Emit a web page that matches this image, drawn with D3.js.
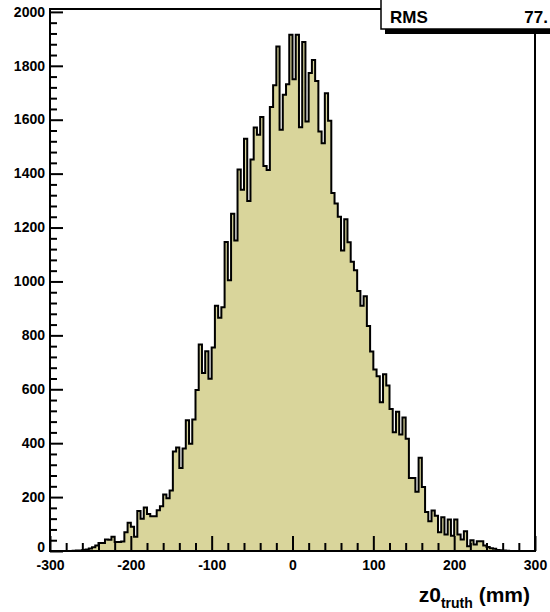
<!DOCTYPE html>
<html><head><meta charset="utf-8">
<script src="https://cdn.jsdelivr.net/npm/d3@7"></script>
<style>body{margin:0;background:#fff} svg{display:block}</style>
</head><body><svg id="c" width="550" height="612"></svg>
<script>
// ---- data ----
const binLow = -300;
const binHigh = 300;
const counts = [
  0,0,0,0,0,0,0,1,2,2,
  4,6,9,14,20,30,30,43,42,53,
  33,33,35,70,105,90,53,148,120,161,
  137,129,129,151,166,210,196,224,369,384,
  308,380,485,398,488,597,766,660,741,639,
  755,910,865,904,1146,1004,1251,1152,1415,1340,
  1529,1298,1452,1571,1544,1610,1428,1413,1647,1728,
  1872,1563,1693,1732,1915,1750,1915,1572,1888,1593,
  1773,1822,1744,1556,1513,1698,1596,1328,1289,1240,
  1115,1231,1145,1073,1042,965,910,945,835,740,
  673,648,552,656,614,527,441,517,432,495,
  416,271,271,220,346,237,145,110,150,131,
  70,125,61,117,57,117,61,43,73,18,
  40,24,36,36,20,15,10,8,4,3,
  2,1,0,0,0,0,0,0,0,0
];
const yTickValues = [0,200,400,600,800,1000,1200,1400,1600,1800,2000];
const yMinorStep = 40;
const xTickValues = [-300,-200,-100,0,100,200,300];
const xTickLabels = ["-300","-200","-100","0","100","200","300"];
const xMinorStep = 20;
const statsLabel = "RMS";
const statsValue = "77.";
const titleMain = "z0";
const titleSub = "truth";
const titleUnit = " (mm)";

// ---- layout ----
const FONT = "'Liberation Sans', Arial, Helvetica, sans-serif";
const svg = d3.select("#c");
const fr = {l:50, r:535, t:9, b:551};
const x = d3.scaleLinear().domain([binLow, binHigh]).range([fr.l, fr.r]);
const yMax = d3.max(counts) * 1.05;
const y = d3.scaleLinear().domain([0, yMax]).range([fr.b, fr.t]);
const binW = (binHigh - binLow) / counts.length;
const pts = counts.map((v,i) => ({e: binLow + i*binW, v}));
pts.push({e: binHigh, v: counts[counts.length-1]});

const area = d3.area().x(d => x(d.e)).y0(y(0)).y1(d => y(d.v)).curve(d3.curveStepAfter);
const line = d3.line().x(d => x(d.e)).y(d => y(d.v)).curve(d3.curveStepAfter);

svg.append("path").attr("d", area(pts)).attr("fill", "#d9d59b");
svg.append("path").attr("d", line(pts)).attr("fill", "none")
   .attr("stroke", "#000").attr("stroke-width", 2).attr("stroke-linejoin", "miter");

// ---- axes ----
function styleAxis(g, size){
  g.select(".domain").remove();
  g.attr("font-family", FONT).attr("font-size", size).attr("font-weight", "bold");
  g.selectAll("line").attr("stroke", "#000").attr("stroke-width", 2);
  g.selectAll("text").attr("fill", "#000");
}
const yMinor = d3.range(0, yMax, yMinorStep).filter(v => !yTickValues.includes(v));
const gyMinor = svg.append("g").attr("transform", `translate(${fr.l},0)`)
  .call(d3.axisLeft(y).tickValues(yMinor).tickSize(-7).tickFormat(""));
styleAxis(gyMinor, 14);
const gy = svg.append("g").attr("transform", `translate(${fr.l},0)`)
  .call(d3.axisLeft(y).tickValues(yTickValues).tickSize(-13).tickPadding(5).tickFormat(d3.format("d")));
styleAxis(gy, 14);
gy.selectAll("text").attr("dy", d => d === 0 ? "0.05em" : "0.3em");

const xMinor = d3.range(binLow, binHigh + 1, xMinorStep).filter(v => !xTickValues.includes(v));
const gxMinor = svg.append("g").attr("transform", `translate(0,${fr.b})`)
  .call(d3.axisBottom(x).tickValues(xMinor).tickSize(-8).tickFormat(""));
styleAxis(gxMinor, 14);
const gx = svg.append("g").attr("transform", `translate(0,${fr.b})`)
  .call(d3.axisBottom(x).tickValues(xTickValues).tickSize(-15).tickPadding(9)
        .tickFormat((d,i) => xTickLabels[i]));
styleAxis(gx, 14);

// ---- frame ----
svg.append("rect").attr("x", fr.l).attr("y", fr.t).attr("width", fr.r - fr.l).attr("height", fr.b - fr.t)
  .attr("fill", "none").attr("stroke", "#000").attr("stroke-width", 2);

// ---- stats box ----
const sb = {x:381, y:-4, w:175, h:33};
svg.append("rect").attr("x", sb.x + 4).attr("y", sb.y + 5).attr("width", sb.w).attr("height", sb.h).attr("fill", "#000");
svg.append("rect").attr("x", sb.x).attr("y", sb.y).attr("width", sb.w).attr("height", sb.h)
  .attr("fill", "#fff").attr("stroke", "#000").attr("stroke-width", 1.5);
svg.append("text").attr("x", 390).attr("y", 23).attr("font-family", FONT).attr("font-weight", "bold")
  .attr("font-size", 17).text(statsLabel);
svg.append("text").attr("x", 548).attr("y", 23).attr("text-anchor", "end").attr("font-family", FONT)
  .attr("font-weight", "bold").attr("font-size", 17).text(statsValue);

// ---- axis title ----
const t = svg.append("text").attr("x", 530).attr("y", 602).attr("text-anchor", "end")
  .attr("font-family", FONT).attr("font-weight", "bold").attr("font-size", 21);
t.append("tspan").text(titleMain);
t.append("tspan").attr("font-size", 14).attr("dy", 6).text(titleSub);
t.append("tspan").attr("dy", -6).text(titleUnit);
</script></body></html>
